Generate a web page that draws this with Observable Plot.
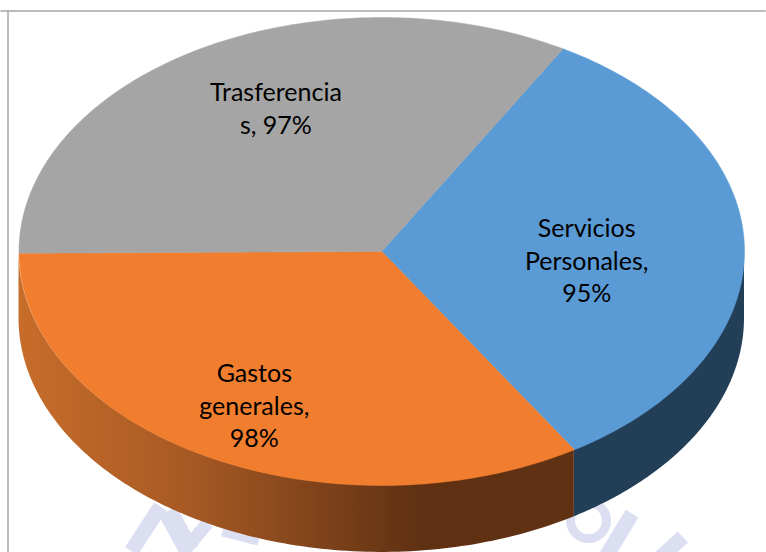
<!DOCTYPE html>
<html><head><meta charset="utf-8">
<script src="https://cdn.jsdelivr.net/npm/d3@7"></script>
<script src="https://cdn.jsdelivr.net/npm/@observablehq/plot@0.6"></script>
<style>html,body{margin:0;padding:0;background:#fff}svg{display:block}</style>
</head><body><div id="chart"></div>
<script>
const categories = ["Servicios Personales", "Gastos generales", "Trasferencias"];
const values = [95, 98, 97];
const labelLines = ["Servicios\nPersonales,\n95%", "Gastos\ngenerales,\n98%", "Trasferencia\ns, 97%"];
const topColors = ["#5b9bd5", "#f07e2e", "#a5a5a5"];

// Layout of the tilted pie, in unit-circle terms
const startAngle = 60, depth = 0.286;
const labelPos = [[0.565, -0.043], [0.73, -0.012], [0.58, 0.115]];
// Faint background watermark fragments, as strokes in the same unit terms: x1, y1, x2, y2, width
const watermarkStrokes = [
  [-0.61, -1.09, -0.69, -1.28, 15],
  [-0.59, -1.11, -0.53, -1.28, 20],
  [-0.48, -1.16, -0.55, -1.29, 13],
  [-0.44, -1.2, -0.34, -1.24, 8],
  [0.69, -1.12, 0.62, -1.3, 15],
  [0.83, -1.22, 0.76, -1.32, 15]
];
const watermarkRing = [[0.57, -1.15]];

const total = d3.sum(values);
let a = startAngle;
const slices = values.map((v, i) => {
  const a0 = a; a -= v / total * 360;
  return {name: categories[i], a0, a1: a, fill: topColors[i], i};
});
const rad = d => d * Math.PI / 180;
const rim = (a0, a1) => d3.range(0, 121).map(k => {
  const t = rad(a0 + (a1 - a0) * k / 120);
  return {x: Math.cos(t), y: Math.sin(t)};
});
const topShape = s => [{x: 0, y: 0}, ...rim(s.a0, s.a1), {x: 0, y: 0}];
const sideBand = (a0, a1) => rim(a0, a1).map(p => ({x: p.x, y1: p.y, y2: p.y - depth}));
const front = (s, lo, hi) => sideBand(Math.min(s.a0, hi), Math.max(s.a1, lo));

const gradient = () => {
  const svg = d3.create("svg:svg");
  const g = svg.append("defs").append("linearGradient").attr("id", "orangeSide");
  [[0, "#c76d2b"], [0.3, "#a85a24"], [0.47, "#8b4a1e"], [0.73, "#5f3012"], [1, "#613113"]]
    .forEach(([o, c]) => g.append("stop").attr("offset", o).attr("stop-color", c));
  return svg.select("defs").node();
};

const plot = Plot.plot({
  width: 766, height: 552,
  margin: 0,
  x: {domain: [-1, 1], range: [18.5, 744], axis: null},
  y: {domain: [1, -1], range: [17, 485], axis: null},
  marks: [
    gradient,
    // watermark
    Plot.dot(watermarkRing, {x: d => d[0], y: d => d[1], r: 18, stroke: "#dcdff2", strokeWidth: 9, fill: "none"}),
    Plot.link(watermarkStrokes, {
      x1: d => d[0], y1: d => d[1], x2: d => d[2], y2: d => d[3],
      strokeWidth: d => d[4], stroke: "#dcdff2"
    }),
    // frame
    Plot.ruleY([1 + 6.5 * 2 / 468], {stroke: "#a6a6a6", strokeWidth: 1.5, x1: -1.05, x2: 1.06}),
    Plot.ruleX([-1 - 11 * 2 / 725.5], {stroke: "#a6a6a6", strokeWidth: 1.5, y1: 1.028, y2: -1.3}),
    // sides
    Plot.areaY(front(slices[0], -90, 0), {x: "x", y1: "y1", y2: "y2", fill: "#233f58"}),
    Plot.areaY(front(slices[1], -180, 0), {x: "x", y1: "y1", y2: "y2", fill: "url(#orangeSide)"}),
    // tops
    ...slices.map(s => Plot.line(topShape(s), {x: "x", y: "y", fill: s.fill, stroke: s.fill, strokeWidth: 0.5, curve: "linear"})),
    // labels
    Plot.text(slices, {
      x: s => labelPos[s.i][0] * Math.cos(rad((s.a0 + s.a1) / 2)),
      y: s => labelPos[s.i][0] * Math.sin(rad((s.a0 + s.a1) / 2)) + labelPos[s.i][1],
      text: s => labelLines[s.i],
      fontFamily: "Lato", fontSize: 25, fill: "#000", lineHeight: 1.31,
      textAnchor: "middle", lineAnchor: "middle"
    })
  ]
});
document.getElementById("chart").append(plot);
</script></body></html>
